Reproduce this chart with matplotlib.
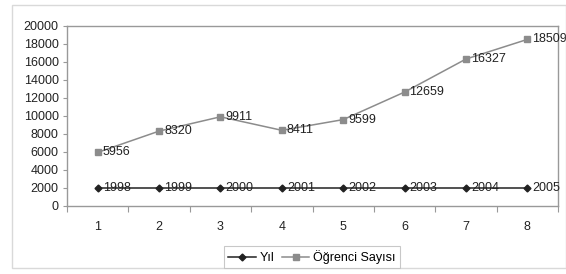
import matplotlib
matplotlib.use("Agg")
import matplotlib.pyplot as plt
from matplotlib.patches import Rectangle

plt.rcParams['font.family'] = ['Liberation Sans', 'DejaVu Sans']

categories = [1, 2, 3, 4, 5, 6, 7, 8]
yil = [1998, 1999, 2000, 2001, 2002, 2003, 2004, 2005]
ogrenci = [5956, 8320, 9911, 8411, 9599, 12659, 16327, 18509]
yil_plot = [2000] * 8  # plotted at ~2000 in the original chart
yticks = list(range(0, 20001, 2000))

W, H = 566, 274
FS = 9
fig = plt.figure(figsize=(W / 100, H / 100), dpi=100)
fig.patch.set_facecolor('white')

# outer chart frame
fig.patches.append(Rectangle((12 / W, 1 - 268 / H), (W - 12) / W, (268 - 5) / H,
                             transform=fig.transFigure, fill=False,
                             edgecolor='#d9d9d9', linewidth=1))

left, right, top, bottom = 67, 558, 26, 206
ax = fig.add_axes([left / W, 1 - bottom / H, (right - left) / W, (bottom - top) / H])

ax.plot(categories, yil_plot, color='#222222', linewidth=1.1, marker='D',
        markersize=3.5, markerfacecolor='#222222', markeredgecolor='#222222', label='Yıl')
ax.plot(categories, ogrenci, color='#8c8c8c', linewidth=1.1, marker='s',
        markersize=5, markerfacecolor='#8c8c8c', markeredgecolor='#8c8c8c',
        label='Öğrenci Sayısı')

for x, y, lab in zip(categories, yil_plot, yil):
    ax.annotate(str(lab), (x, y), xytext=(3.6, 0), textcoords='offset points',
                va='center', ha='left', fontsize=FS, color='#222222')
for x, y in zip(categories, ogrenci):
    ax.annotate(str(y), (x, y), xytext=(3.6, 0), textcoords='offset points',
                va='center', ha='left', fontsize=FS, color='#222222')

ax.set_xlim(0.5, 8.5)
ax.set_ylim(0, 20000)
ax.set_yticks(yticks)
ax.set_yticklabels([str(t) for t in yticks], fontsize=FS, color='#222222')
ax.set_xticks([c + 0.5 for c in categories[:-1]] + [0.5, 8.5])
ax.set_xticklabels([])
ax.set_xticks(categories, minor=True)
ax.set_xticklabels([str(c) for c in categories], minor=True, fontsize=FS, color='#222222')
ax.tick_params(axis='x', which='major', length=4, color='#999999', direction='out')
ax.tick_params(axis='x', which='minor', length=0, pad=11)
ax.tick_params(axis='y', length=3, color='#999999', direction='out', pad=3)
for s in ax.spines.values():
    s.set_color('#999999')
    s.set_linewidth(1)

leg = fig.legend(loc='center', bbox_to_anchor=(312 / W, 1 - 257 / H), ncol=2,
                 fontsize=FS, frameon=True, fancybox=False, edgecolor='#bbbbbb',
                 handlelength=2.2, handletextpad=0.3, columnspacing=0.6,
                 borderpad=0.35)
leg.get_frame().set_linewidth(0.8)

fig.savefig('out.png', dpi=100)
